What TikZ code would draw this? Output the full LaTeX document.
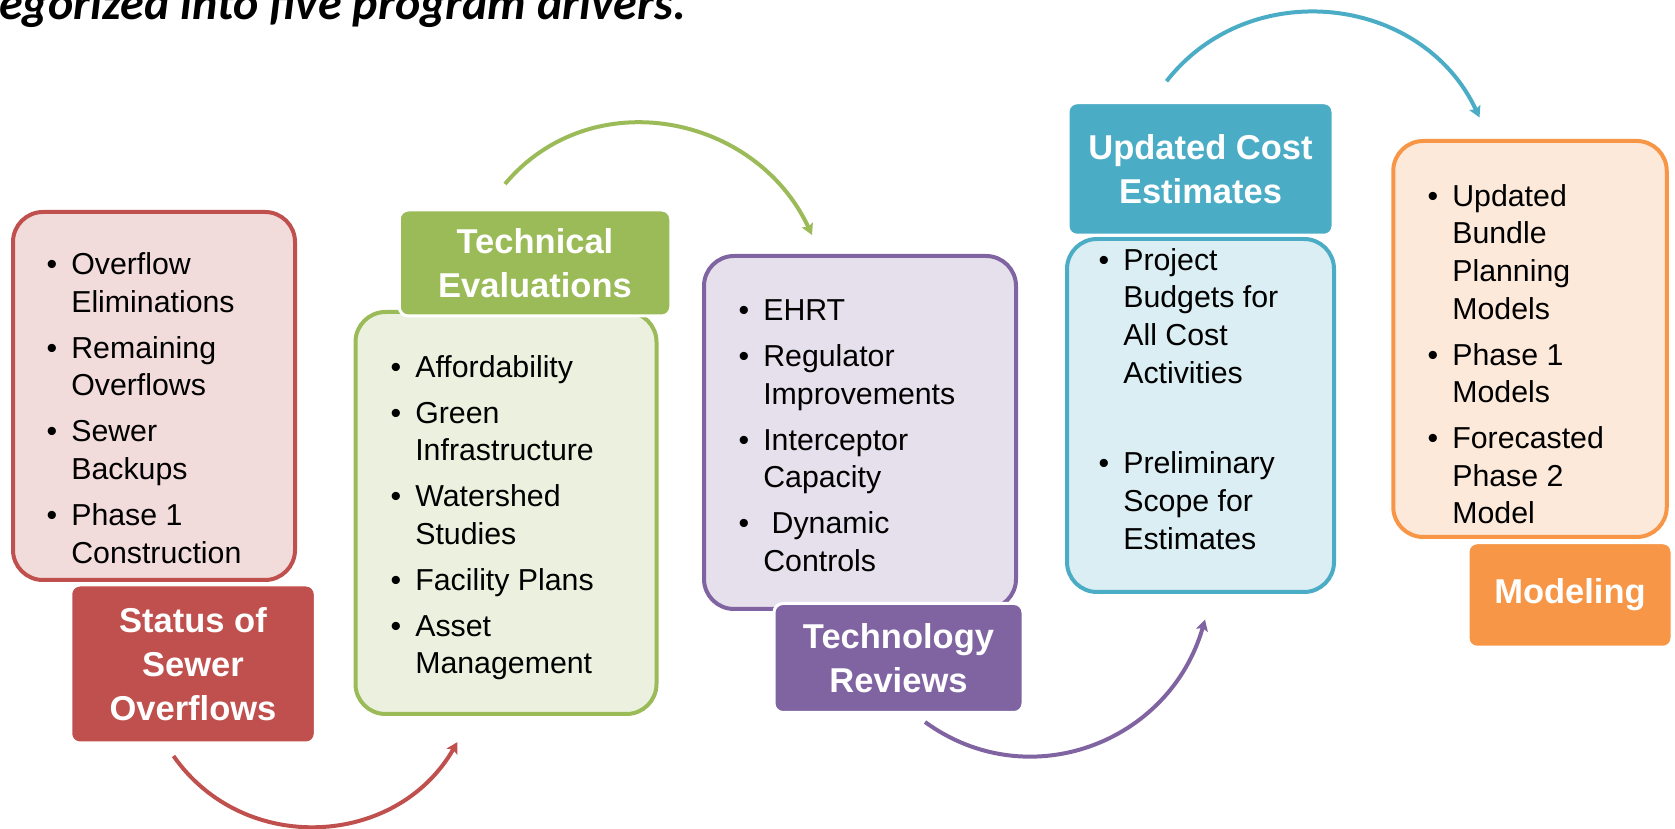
\documentclass[tikz,border=0pt]{standalone}
\usepackage{fontspec}
\setmainfont{Liberation Sans}
\newfontfamily\titlefont{Carlito}
\usetikzlibrary{arrows.meta,positioning}

\definecolor{redline}{HTML}{C0504D}
\definecolor{redfill}{HTML}{F2DCDB}
\definecolor{greenline}{HTML}{9BBB59}
\definecolor{greenfill}{HTML}{EBF1DE}
\definecolor{purpleline}{HTML}{8064A2}
\definecolor{purplefill}{HTML}{E5E0EC}
\definecolor{blueline}{HTML}{4BACC6}
\definecolor{bluefill}{HTML}{DBEEF4}
\definecolor{orangeline}{HTML}{F79646}
\definecolor{orangefill}{HTML}{FDE9D9}

\tikzset{panel/.style={draw=#1line, fill=#1fill, line width=4pt, rounded corners=30pt, inner sep=0pt}}
\tikzset{header/.style={fill=#1line, draw=white, line width=3pt, rounded corners=9pt, text=white, align=center, inner sep=0pt, font=\fontsize{34.5}{43.8}\selectfont\bfseries}}
\tikzset{bodytext/.style={inner sep=0pt, anchor=base west, font=\fontsize{30.3}{37.6}\selectfont}}
\tikzset{driverarrow/.style={draw=#1line, line width=4pt, -{Stealth[length=11pt,width=12pt,inset=2pt]}, looseness=1.1}}

\begin{document}
\begin{tikzpicture}[x=1pt,y=1pt]
\useasboundingbox (0,0) rectangle (1675,829);
\node[anchor=base west, inner sep=0pt, font=\titlefont\fontsize{48}{50}\selectfont\bfseries\itshape] (title) at (-1,809) {egorized into five program drivers.};

% content panels
\node[panel=red, minimum width=282pt, minimum height=368pt] (statusbox) at (154,433) {};
\node[panel=green, minimum width=301pt, minimum height=402pt] (techbox) at (506,316) {};
\node[panel=purple, minimum width=312pt, minimum height=353pt] (reviewbox) at (860,396.5) {};
\node[panel=blue, minimum width=267pt, minimum height=353pt] (costbox) at (1200.5,413.5) {};
\node[panel=orange, minimum width=273.5pt, minimum height=396pt] (modelbox) at (1530,490) {};

% bullet lists
\node[bodytext] (statuslist) at (46.5,554.3) {\begin{tabular}[t]{@{}l@{\hspace{14pt}}l@{}}
\textbullet & Overflow\\ & Eliminations\\[8.4pt]
\textbullet & Remaining\\ & Overflows\\[8.4pt]
\textbullet & Sewer\\ & Backups\\[8.4pt]
\textbullet & Phase 1\\ & Construction
\end{tabular}};
\node[bodytext] (techlist) at (390.5,451.8) {\begin{tabular}[t]{@{}l@{\hspace{14pt}}l@{}}
\textbullet & Affordability\\[8.4pt]
\textbullet & Green\\ & Infrastructure\\[8.4pt]
\textbullet & Watershed\\ & Studies\\[8.4pt]
\textbullet & Facility Plans\\[8.4pt]
\textbullet & Asset\\ & Management
\end{tabular}};
\node[bodytext] (reviewlist) at (738.5,508.4) {\begin{tabular}[t]{@{}l@{\hspace{14pt}}l@{}}
\textbullet & EHRT\\[8.4pt]
\textbullet & Regulator\\ & Improvements\\[8.4pt]
\textbullet & Interceptor\\ & Capacity\\[8.4pt]
\textbullet & \ Dynamic\\ & Controls
\end{tabular}};
\node[bodytext] (costlist) at (1098.5,558.6) {\begin{tabular}[t]{@{}l@{\hspace{14pt}}l@{}}
\textbullet & Project\\ & Budgets for\\ & All Cost\\ & Activities\\[53.2pt]
\textbullet & Preliminary\\ & Scope for\\ & Estimates
\end{tabular}};
\node[bodytext] (modellist) at (1427.5,622.7) {\begin{tabular}[t]{@{}l@{\hspace{14pt}}l@{}}
\textbullet & Updated\\ & Bundle\\ & Planning\\ & Models\\[8.4pt]
\textbullet & Phase 1\\ & Models\\[8.4pt]
\textbullet & Forecasted\\ & Phase 2\\ & Model
\end{tabular}};

% headers
\node[header=red, minimum width=244.5pt, minimum height=158pt] (status) at (193,165) {Status of\\Sewer\\Overflows};
\node[header=green, minimum width=271.5pt, minimum height=106pt] (tech) at (535,566) {Technical\\Evaluations};
\node[header=purple, minimum width=249pt, minimum height=109pt] (review) at (898.5,171) {Technology\\Reviews};
\node[header=blue, minimum width=265pt, minimum height=132.5pt] (cost) at (1200.5,660) {Updated Cost\\Estimates};
\node[header=orange, minimum width=204pt, minimum height=104.5pt] (model) at (1570,234) {Modeling};

% arrows between drivers
\draw[driverarrow=red] ([shift={(-19.5,-11.5)}]status.south) to[out=-55,in=240] ([shift={(-48.5,-26)}]techbox.south);
\draw[driverarrow=green] ([shift={(-30,24.5)}]tech.north) to[out=50,in=115] ([shift={(-48,19)}]reviewbox.north);
\draw[driverarrow=purple] ([shift={(26.5,-8)}]review.south) to[out=-36,in=254] ([shift={(4.5,-25.6)}]costbox.south);
\draw[driverarrow=blue] ([shift={(-34,20)}]cost.north) to[out=52,in=115] ([shift={(-50.5,21.5)}]modelbox.north);
\end{tikzpicture}
\end{document}
